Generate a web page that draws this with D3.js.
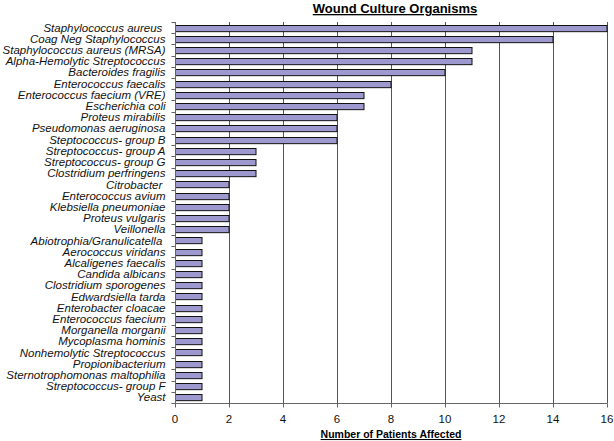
<!DOCTYPE html>
<html><head><meta charset="utf-8">
<script src="https://cdn.jsdelivr.net/npm/d3@7"></script>
<style>body{margin:0;background:#fff}svg{display:block}text{font-family:"Liberation Sans",Arial,sans-serif}</style>
</head><body><svg id="c" width="614" height="441"></svg>
<script>
const organisms = ["Staphylococcus aureus ","Coag Neg Staphylococcus","Staphylococcus aureus (MRSA)","Alpha-Hemolytic Streptococcus","Bacteroides fragilis","Enterococcus faecalis","Enterococcus faecium (VRE)","Escherichia coli","Proteus mirabilis","Pseudomonas aeruginosa","Steptococcus- group B","Streptococcus- group A","Streptococcus- group G","Clostridium perfringens","Citrobacter ","Enterococcus avium","Klebsiella pneumoniae","Proteus vulgaris","Veillonella","Abiotrophia/Granulicatella ","Aerococcus viridans","Alcaligenes faecalis","Candida albicans","Clostridium sporogenes","Edwardsiella tarda","Enterobacter cloacae","Enterococcus faecium","Morganella morganii","Mycoplasma hominis","Nonhemolytic Streptococcus","Propionibacterium","Sternotrophomonas maltophilia","Streptococcus- group F","Yeast"];
const patients = [16,14,11,11,10,8,7,7,6,6,6,3,3,3,2,2,2,2,2,1,1,1,1,1,1,1,1,1,1,1,1,1,1,1];
const xTicks = [0,2,4,6,8,10,12,14,16];
const chartTitle = "Wound Culture Organisms";
const xTitle = "Number of Patients Affected";

const svg = d3.select("#c");
const L = 175, R = 607, T = 22, B = 403;
const x = d3.scaleLinear().domain([0,16]).range([L,R]);
const y = d3.scaleBand().domain(organisms).range([T,B]).paddingInner(0.45).paddingOuter(0.225);

// gridlines
svg.append("g").selectAll("line").data(xTicks.slice(1)).join("line")
  .attr("x1",d=>x(d)+0.5).attr("x2",d=>x(d)+0.5).attr("y1",T).attr("y2",B)
  .attr("stroke","#555").attr("stroke-width",1);

// bars
svg.append("g").selectAll("rect").data(organisms).join("rect")
  .attr("x",x(0)+0.5).attr("y",d=>Math.round(y(d))+0.5)
  .attr("width",(d,i)=>x(patients[i])-x(0)-0.5).attr("height",y.bandwidth())
  .attr("fill","#9d99cf").attr("stroke","#111").attr("stroke-width",1);

// y axis
const ya = svg.append("g").attr("transform",`translate(${L+0.5},0)`);
ya.append("line").attr("y1",T).attr("y2",B).attr("stroke","#666");
const step = y.step();
ya.selectAll("line.t").data(d3.range(organisms.length+1)).join("line").attr("class","t")
  .attr("x1",-4).attr("x2",0).attr("y1",i=>Math.round(T+i*(B-T)/organisms.length)+0.5).attr("y2",i=>Math.round(T+i*(B-T)/organisms.length)+0.5)
  .attr("stroke","#666");
ya.selectAll("text").data(organisms).join("text")
  .attr("x",-10).attr("y",d=>y(d)+y.bandwidth()/2).attr("dy","0.35em")
  .attr("text-anchor","end").attr("font-style","italic").attr("font-size",11.5)
  .style("white-space","pre").attr("fill","#111").text(d=>d);

// x axis
const xa = svg.append("g").attr("transform",`translate(0,${B+0.5})`);
xa.append("line").attr("x1",L).attr("x2",R+0.5).attr("stroke","#666");
xa.selectAll("line.t").data(xTicks).join("line").attr("class","t")
  .attr("x1",d=>x(d)+0.5).attr("x2",d=>x(d)+0.5).attr("y1",0).attr("y2",4).attr("stroke","#666");
xa.selectAll("text").data(xTicks).join("text")
  .attr("x",d=>x(d)).attr("y",19).attr("text-anchor","middle").attr("font-size",11.5).attr("fill","#111").text(d=>d);

svg.append("text").attr("x",391).attr("y",438).attr("text-anchor","middle")
  .attr("font-weight","bold").attr("font-size",10.5).attr("text-decoration","underline").text(xTitle);
svg.append("text").attr("x",395).attr("y",13).attr("text-anchor","middle")
  .attr("font-weight","bold").attr("font-size",13).attr("text-decoration","underline").text(chartTitle);
</script></body></html>
